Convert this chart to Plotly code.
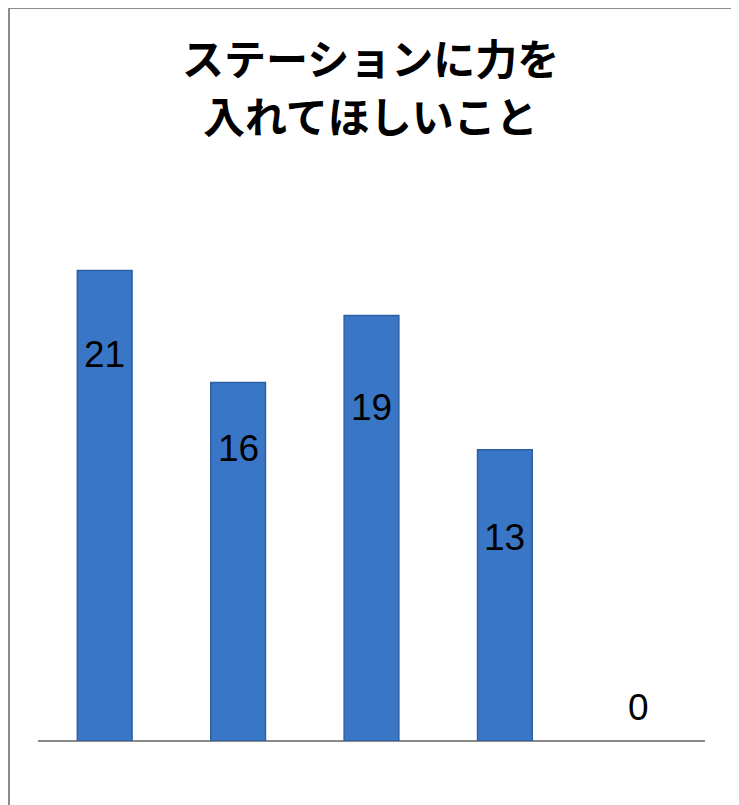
import plotly.graph_objects as go

categories = ["A", "B", "C", "D", "E"]
values = [21, 16, 19, 13, 0]
label_texts = ["21", "16", "19", "13", "0"]
title_lines = ["ステーションに力を", "入れてほしいこと"]

# vertical offsets (px) of the value labels relative to the bar tops
label_shift = [-84, -66, -92, -88, 34]

# page offset (browser body margin) compensated in the layout below
L, T = 30, 173
PW, PH = 667, 560
title_centers = [49, 107]

fig = go.Figure()
fig.add_trace(go.Bar(
    x=categories, y=values,
    width=0.41,
    marker=dict(color="#3A76C6",
                line=dict(color="#2E5FA3", width=[1.5, 1.5, 1.5, 1.5, 0])),
    hoverinfo="skip",
))

for c, v, t, s in zip(categories, values, label_texts, label_shift):
    fig.add_annotation(x=c, y=v, text=t, showarrow=False, yshift=s,
                       font=dict(family="Liberation Sans", size=37, color="#000000"))

for line, yc in zip(title_lines, title_centers):
    fig.add_annotation(
        xref="paper", yref="paper",
        x=(362 - L) / PW, y=1 + (T - yc) / PH,
        xanchor="center", yanchor="middle",
        text="<b>" + line + "</b>", showarrow=False,
        font=dict(family="Noto Sans CJK JP", size=42, color="#000000"),
    )

fig.update_layout(
    width=739, height=805,
    margin=dict(l=L, r=739 - L - PW, t=T, b=805 - T - PH),
    paper_bgcolor="white", plot_bgcolor="white",
    showlegend=False,
    xaxis=dict(range=[-0.5, 4.5], showticklabels=False, showgrid=False,
               zeroline=False, showline=False, ticks="", fixedrange=True),
    yaxis=dict(range=[0, 25], showticklabels=False, showgrid=False,
               zeroline=True, zerolinecolor="#8a8a8a", zerolinewidth=2,
               showline=False, ticks="", fixedrange=True),
    shapes=[dict(type="rect", xref="paper", yref="paper",
                 x0=(1 - L) / PW, x1=(726 - L) / PW, y0=-0.3, y1=1 + (T - 0) / PH,
                 line=dict(color="#8c8c8c", width=2), layer="below")],
)

fig.write_html("out.html")
